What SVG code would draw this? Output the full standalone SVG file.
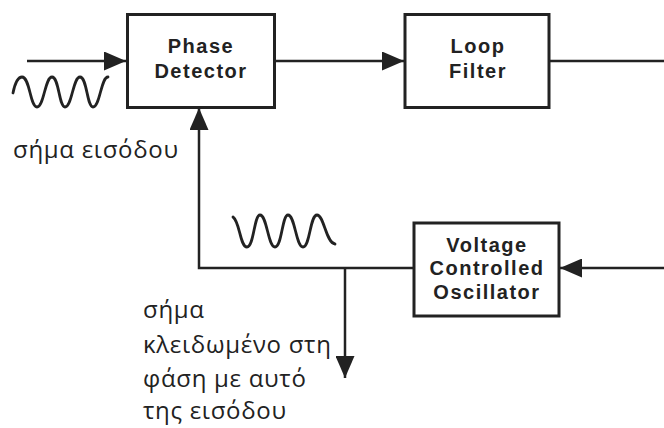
<svg xmlns="http://www.w3.org/2000/svg" width="664" height="428" viewBox="0 0 664 428">
<style>
.box{fill:#fff;stroke:#222;stroke-width:3}
.lbl{font-family:"Liberation Sans",Arial,sans-serif;font-weight:bold;font-size:20px;letter-spacing:1.5px;fill:#222;text-anchor:middle}
.gr{font-family:"Open Sans","Noto Sans",sans-serif;font-size:24px;letter-spacing:0.7px;fill:#222}
.ln{fill:none;stroke:#222;stroke-width:2.5}
.wave{fill:none;stroke:#222;stroke-width:2.8;stroke-linecap:round}
</style>
<defs>
<marker id="ah" viewBox="0 0 22 19" refX="22" refY="9.5" markerWidth="22" markerHeight="19" markerUnits="userSpaceOnUse" orient="auto">
<path d="M0,0 L22,9.5 L0,19 Z" fill="#222"/>
</marker>
</defs>
<rect width="664" height="428" fill="#fff"/>
<g id="connectors">
<path class="ln" d="M27,61 H126" marker-end="url(#ah)"/>
<path class="ln" d="M275,61 H404" marker-end="url(#ah)"/>
<path class="ln" d="M549,61 H664"/>
<path class="ln" d="M664,268 H560" marker-end="url(#ah)"/>
<path class="ln" d="M414,268 H199 V108" marker-end="url(#ah)"/>
<path class="ln" d="M345,268 V378" marker-end="url(#ah)"/>
</g>
<g id="phase-detector">
<rect class="box" x="127.5" y="14.5" width="147" height="93"/>
<text class="lbl" x="201" y="53">Phase</text>
<text class="lbl" x="201" y="78">Detector</text>
</g>
<g id="loop-filter">
<rect class="box" x="405" y="14.5" width="144" height="93"/>
<text class="lbl" x="478" y="53">Loop</text>
<text class="lbl" x="478" y="78">Filter</text>
</g>
<g id="vco">
<rect class="box" x="414" y="223" width="145" height="93"/>
<text class="lbl" x="487" y="252">Voltage</text>
<text class="lbl" x="487" y="275">Controlled</text>
<text class="lbl" x="487" y="299">Oscillator</text>
</g>
<g id="input-signal">
<path class="wave" d="M13,93 C15,83 18,77 22,77 C30,77 30,107 37,107 C44,107 45,77 52,77 C59,77 59,107 65,107 C72,107 73,77 80,77 C87,77 87,107 93,107 C100,107 101,77 108,77"/>
<text class="gr" x="13" y="158">σήμα εισόδου</text>
</g>
<g id="locked-signal">
<path class="wave" d="M233,217 C240,222 240,247 247,247 C254,247 254,215 260,215 C267,215 268,247 275,247 C282,247 282,215 288,215 C295,215 296,247 303,247 C310,247 310,215 317,215 C324,215 326,243 335,244"/>
<text class="gr" x="143" y="318">σήμα</text>
<text class="gr" x="143" y="353">κλειδωμένο στη</text>
<text class="gr" x="143" y="387">φάση με αυτό</text>
<text class="gr" x="143" y="419">της εισόδου</text>
</g>
</svg>
